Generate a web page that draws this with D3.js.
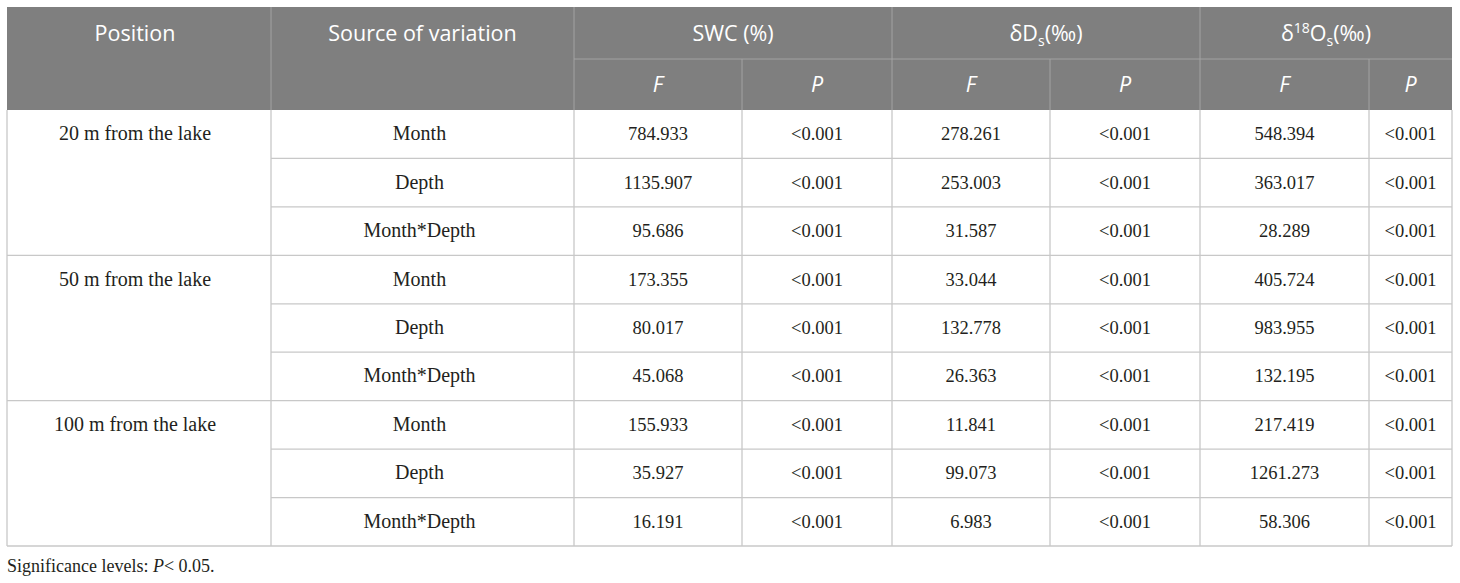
<!DOCTYPE html>
<html>
<head>
<meta charset="utf-8">
<script src="https://cdn.jsdelivr.net/npm/d3@7"></script>
<style>
  body { margin: 0; background: #fff; }
  .head { font-family: "Open Sans", sans-serif; fill: #fff; }
  .cell { font-family: "Liberation Serif", serif; fill: #231f20; }
</style>
</head>
<body>
<div id="table"></div>
<script>
// table contents
const positions = ["20 m from the lake", "50 m from the lake", "100 m from the lake"];
const sources = ["Month", "Depth", "Month*Depth"];
const swcF = ["784.933", "1135.907", "95.686", "173.355", "80.017", "45.068", "155.933", "35.927", "16.191"];
const dDF = ["278.261", "253.003", "31.587", "33.044", "132.778", "26.363", "11.841", "99.073", "6.983"];
const d18OF = ["548.394", "363.017", "28.289", "405.724", "983.955", "132.195", "217.419", "1261.273", "58.306"];
const pValue = "<0.001";
const note = "Significance levels: ";

const width = 1460, height = 583;
// column edges of the table
const colEdges = [7, 271, 574, 742, 892, 1050, 1200, 1369, 1452];
const headTop = 7, headMid = 59, headBottom = 110, tableBottom = 546;

const svg = d3.select("#table")
    .append("svg")
    .attr("width", width)
    .attr("height", height);

// one row per position/source pair
const rows = positions.flatMap((p, i) => sources.map((s, j) => ({
    pos: p, src: s, first: j === 0,
    vals: [swcF[i * 3 + j], pValue, dDF[i * 3 + j], pValue, d18OF[i * 3 + j], pValue]
})));

const yScale = d3.scaleBand()
    .domain(d3.range(rows.length))
    .range([headBottom, tableBottom]);

const cx = k => (colEdges[k] + colEdges[k + 1]) / 2;
const lineColor = "#c8c8c8";

// header background
svg.append("rect")
    .attr("x", colEdges[0]).attr("y", headTop)
    .attr("width", colEdges[8] - colEdges[0])
    .attr("height", headBottom - headTop)
    .attr("fill", "#7f7f7f");

const headLine = "#a3a3a3";
// header dividers
svg.append("line")
    .attr("x1", colEdges[2]).attr("x2", colEdges[8])
    .attr("y1", headMid).attr("y2", headMid)
    .attr("stroke", headLine);
[1, 2, 4, 6].forEach(k => svg.append("line")
    .attr("x1", colEdges[k]).attr("x2", colEdges[k])
    .attr("y1", headTop).attr("y2", headBottom)
    .attr("stroke", headLine));
[3, 5, 7].forEach(k => svg.append("line")
    .attr("x1", colEdges[k]).attr("x2", colEdges[k])
    .attr("y1", headMid).attr("y2", headBottom)
    .attr("stroke", headLine));

const headSize = 21.5;
const headY = 41;
svg.append("text").attr("class", "head")
    .attr("x", cx(0) - 4).attr("y", headY)
    .attr("text-anchor", "middle").attr("font-size", headSize)
    .text("Position");
svg.append("text").attr("class", "head")
    .attr("x", cx(1)).attr("y", headY)
    .attr("text-anchor", "middle").attr("font-size", headSize)
    .text("Source of variation");
svg.append("text").attr("class", "head")
    .attr("x", (colEdges[2] + colEdges[4]) / 2).attr("y", headY)
    .attr("text-anchor", "middle").attr("font-size", headSize)
    .text("SWC (%)");

// δDs(‰)
const dD = svg.append("text").attr("class", "head")
    .attr("x", (colEdges[4] + colEdges[6]) / 2).attr("y", headY)
    .attr("text-anchor", "middle").attr("font-size", headSize);
dD.append("tspan").text("δD");
dD.append("tspan").attr("font-size", 14).attr("dy", 5).text("s");
dD.append("tspan").attr("dy", -5).text("(‰)");

// δ18Os(‰)
const dO = svg.append("text").attr("class", "head")
    .attr("x", (colEdges[6] + colEdges[8]) / 2).attr("y", headY)
    .attr("text-anchor", "middle").attr("font-size", headSize);
dO.append("tspan").text("δ");
dO.append("tspan").attr("font-size", 14).attr("dy", -8).text("18");
dO.append("tspan").attr("dy", 8).text("O");
dO.append("tspan").attr("font-size", 14).attr("dy", 5).text("s");
dO.append("tspan").attr("dy", -5).text("(‰)");

// F / P sub header
d3.range(2, 8).forEach(k => svg.append("text").attr("class", "head")
    .attr("x", cx(k)).attr("y", 92)
    .attr("text-anchor", "middle").attr("font-size", headSize)
    .attr("font-style", "italic")
    .text(k % 2 === 0 ? "F" : "P"));

// body lines
const body = svg.append("g");
rows.forEach((r, i) => {
    const y = yScale(i) + yScale.bandwidth();
    body.append("line")
        .attr("x1", (i % 3 === 2) ? colEdges[0] : colEdges[1])
        .attr("x2", colEdges[8])
        .attr("y1", y).attr("y2", y)
        .attr("stroke", lineColor).attr("stroke-width", 1.3);
});
colEdges.forEach(x => body.append("line")
    .attr("x1", x).attr("x2", x)
    .attr("y1", headBottom).attr("y2", tableBottom)
    .attr("stroke", lineColor).attr("stroke-width", 1.3));

// body text
const cellSize = 18.5;
const rowG = body.selectAll("g.row")
    .data(rows)
    .join("g")
    .attr("class", "row")
    .attr("transform", (d, i) => `translate(0, ${yScale(i) + yScale.bandwidth() / 2 + 6})`);

rowG.filter(d => d.first)
    .append("text").attr("class", "cell")
    .attr("x", cx(0) - 4).attr("text-anchor", "middle")
    .attr("font-size", 20)
    .text(d => d.pos);

rowG.append("text").attr("class", "cell")
    .attr("x", cx(1) - 3).attr("text-anchor", "middle")
    .attr("font-size", 20)
    .text(d => d.src);

rowG.selectAll("text.val")
    .data(d => d.vals)
    .join("text")
    .attr("class", "cell val")
    .attr("x", (d, k) => cx(k + 2)).attr("text-anchor", "middle")
    .attr("font-size", cellSize)
    .text(d => d);

// footnote
const foot = svg.append("text").attr("class", "cell")
    .attr("x", colEdges[0]).attr("y", 572)
    .attr("font-size", 18);
foot.append("tspan").text(note);
foot.append("tspan").attr("font-style", "italic").text("P");
foot.append("tspan").text("< 0.05.");
</script>
</body>
</html>
